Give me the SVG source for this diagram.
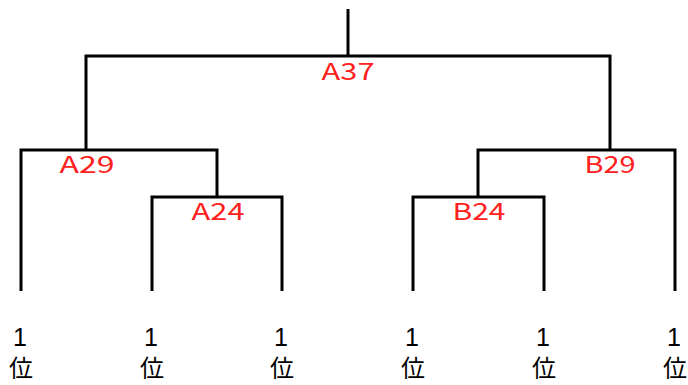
<svg xmlns="http://www.w3.org/2000/svg" width="688" height="385" viewBox="0 0 688 385">
<style>
.ln{fill:none;stroke:#000;stroke-width:3;stroke-linecap:butt;stroke-linejoin:miter}
.lb{font-family:"Noto Sans CJK JP","Liberation Sans",sans-serif;font-size:23px;fill:#ff2020;text-anchor:middle}
.n1{font-family:"Liberation Sans",sans-serif;font-size:25px;fill:#000;text-anchor:middle}
.lf{font-family:"Noto Sans CJK JP",sans-serif;font-size:24px;fill:#000;text-anchor:middle}
</style>
<rect width="688" height="385" fill="#fff"/>
<g id="connectors">
<path class="ln" d="M348,9V56"/>
<path class="ln" d="M86,150V56H610V150"/>
<path class="ln" d="M21,291V150H217V197"/>
<path class="ln" d="M152,291V197H282V291"/>
<path class="ln" d="M478,197V150H675V291"/>
<path class="ln" d="M413,291V197H544V291"/>
</g>
<g id="A37"><text class="lb" x="348" y="80" textLength="53" lengthAdjust="spacingAndGlyphs">A37</text></g>
<g id="A29"><text class="lb" x="87" y="173" textLength="55" lengthAdjust="spacingAndGlyphs">A29</text></g>
<g id="A24"><text class="lb" x="218" y="220" textLength="53" lengthAdjust="spacingAndGlyphs">A24</text></g>
<g id="B29"><text class="lb" x="610" y="173" textLength="51" lengthAdjust="spacingAndGlyphs">B29</text></g>
<g id="B24"><text class="lb" x="479" y="220" textLength="53" lengthAdjust="spacingAndGlyphs">B24</text></g>
<g id="leaf1"><text class="n1" x="20" y="346">1</text><text class="lf" x="21" y="377">位</text></g>
<g id="leaf2"><text class="n1" x="151" y="346">1</text><text class="lf" x="152" y="377">位</text></g>
<g id="leaf3"><text class="n1" x="281" y="346">1</text><text class="lf" x="282" y="377">位</text></g>
<g id="leaf4"><text class="n1" x="412" y="346">1</text><text class="lf" x="413" y="377">位</text></g>
<g id="leaf5"><text class="n1" x="543" y="346">1</text><text class="lf" x="544" y="377">位</text></g>
<g id="leaf6"><text class="n1" x="674" y="346">1</text><text class="lf" x="675" y="377">位</text></g>
</svg>
